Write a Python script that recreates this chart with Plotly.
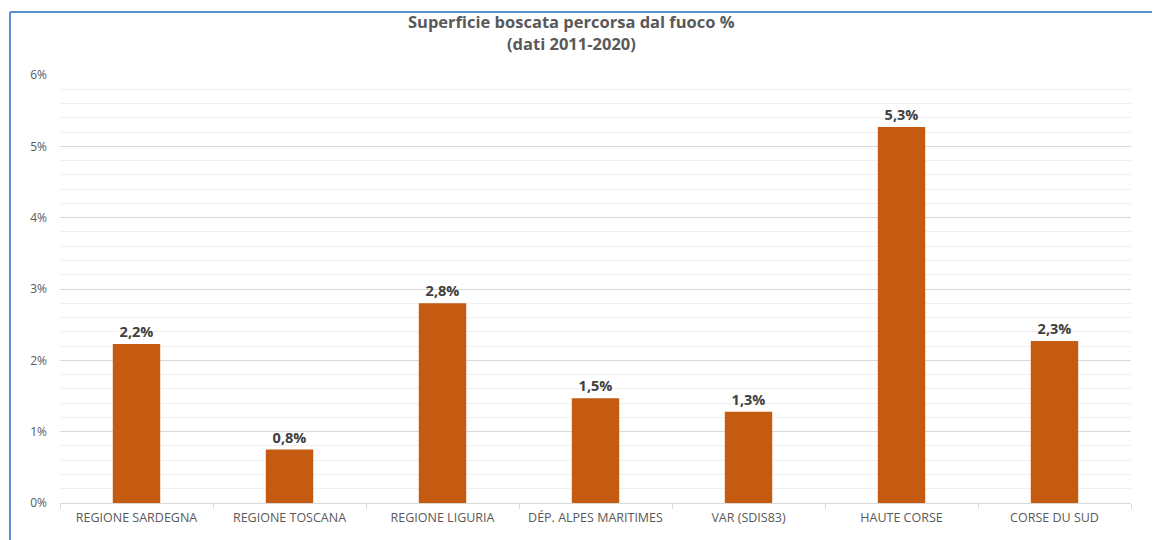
import plotly.graph_objects as go

categories = ["REGIONE SARDEGNA", "REGIONE TOSCANA", "REGIONE LIGURIA", "DÉP. ALPES MARITIMES",
              "VAR (SDIS83)", "HAUTE CORSE", "CORSE DU SUD"]
values = [0.0223, 0.0075, 0.0280, 0.0147, 0.0128, 0.0527, 0.0227]
title_lines = ["Superficie boscata percorsa dal fuoco %", "(dati 2011-2020)"]

OFF = 8  # page body margin
W, H = 1160 - OFF, 540 - OFF
L, R, T, B = 60 - OFF, 29, 75 - OFF, 37
pw, ph = W - L - R, H - T - B


def px_x(x):
    return (x - OFF - L) / pw


def px_y(y):
    return 1 - (y - OFF - T) / ph


fig = go.Figure(go.Bar(
    x=categories, y=values, width=0.31,
    marker=dict(color="#C55A11", line=dict(width=0)),
    texttemplate="<b>%{y:.1%}</b>", textposition="outside",
    textfont=dict(family="Open Sans", size=14.5, color="#404040"),
    cliponaxis=False,
))

fig.update_layout(
    width=W, height=H, separators=",.",
    margin=dict(l=L, r=R, t=T, b=B),
    paper_bgcolor="white", plot_bgcolor="white",
    font=dict(family="Open Sans", color="#595959"),
    showlegend=False,
    yaxis=dict(range=[0, 0.06], dtick=0.01, tickformat=".0%", gridcolor="#d9d9d9", gridwidth=1,
               tickfont=dict(size=12, color="#595959"), zeroline=False, ticks="", ticklabelstandoff=12,
               minor=dict(dtick=0.002, showgrid=True, gridcolor="#f0f0f0", gridwidth=1),
               fixedrange=True),
    xaxis=dict(showline=True, linecolor="#d9d9d9", linewidth=1, ticks="outside", tickson="boundaries",
               ticklen=5, tickcolor="#d9d9d9", tickfont=dict(size=12.5, color="#595959"), showgrid=False,
               ticklabelstandoff=3),
)

for i, (line, ycen) in enumerate(zip(title_lines, [21.5, 44])):
    fig.add_annotation(text="<b>" + line + "</b>", xref="paper", yref="paper",
                       x=px_x(571), y=px_y(ycen), xanchor="center", yanchor="middle",
                       showarrow=False, font=dict(size=16.5, color="#595959", family="Open Sans"))

# blue border (left and top of chart frame)
bx = px_x(10)
by = px_y(12)
fig.add_shape(type="line", xref="paper", yref="paper", x0=bx, x1=bx, y0=by, y1=px_y(560),
              line=dict(color="#5B8FD0", width=2))
fig.add_shape(type="line", xref="paper", yref="paper", x0=bx, x1=px_x(1180), y0=by, y1=by,
              line=dict(color="#5B8FD0", width=2))

fig.write_html("out.html")
